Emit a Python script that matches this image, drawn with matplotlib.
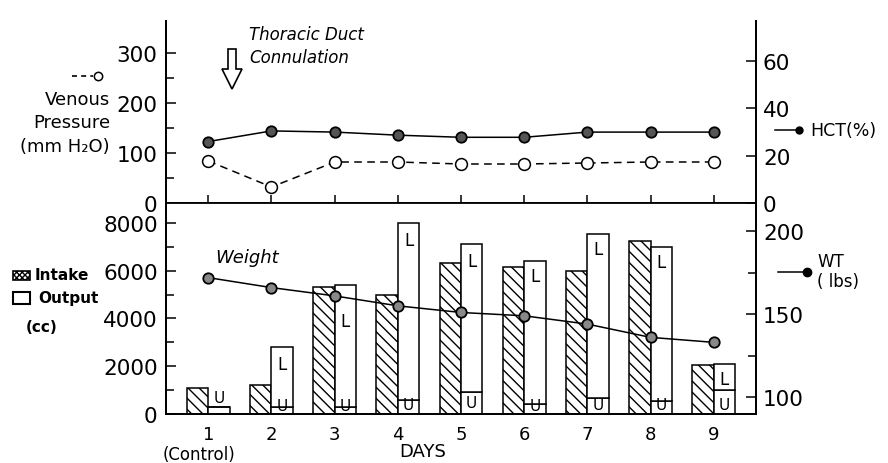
import matplotlib
matplotlib.use('Agg')
import matplotlib.pyplot as plt
from matplotlib.patches import Rectangle, FancyArrow
from matplotlib.lines import Line2D

# ---------------- data ----------------
days = [1, 2, 3, 4, 5, 6, 7, 8, 9]
day_labels = ['1', '2', '3', '4', '5', '6', '7', '8', '9']
venous_pressure = [84, 32, 82, 82, 78, 78, 80, 82, 82]      # mm H2O
hct = [26, 30.5, 30, 28.7, 27.8, 27.8, 30, 30, 30]           # %
intake = [1100, 1200, 5300, 5000, 6300, 6150, 6000, 7250, 2050]   # cc
urine = [300, 300, 300, 600, 900, 400, 650, 550, 1000]            # cc (U)
lymph = [0, 2500, 5100, 7400, 6200, 6000, 6900, 6450, 1100]       # cc (L)
weight = [172, 166, 161, 155, 151, 149, 144, 136, 133]            # lbs

vp_ticks = [0, 100, 200, 300]
vp_minor = [50, 150, 250]
hct_ticks = [0, 20, 40, 60]
cc_ticks = [0, 2000, 4000, 6000, 8000]
cc_minor = [1000, 3000, 5000, 7000]
wt_ticks = [100, 150, 200]
wt_minor = [125, 175]

# ---------------- figure ----------------
plt.rcParams['font.family'] = ['DejaVu Sans']
plt.rcParams['hatch.linewidth'] = 1.0
W, H = 888, 464
fig = plt.figure(figsize=(W / 100, H / 100), dpi=100)

def fx(px):
    return px / W

def fy(py):
    return 1 - py / H

LEFT, RIGHT = 166, 756
ax1 = fig.add_axes([fx(LEFT), fy(204), (RIGHT - LEFT) / W, (204 - 22) / H])
ax2 = fig.add_axes([fx(LEFT), fy(415), (RIGHT - LEFT) / W, (415 - 204) / H])
ax1r = ax1.twinx()
ax2r = ax2.twinx()

spine_lw = 1.3
for a in (ax1, ax1r, ax2, ax2r):
    a.spines['top'].set_visible(False)
    for s in ('left', 'right', 'bottom'):
        a.spines[s].set_linewidth(spine_lw)
    a.set_xlim(0.33, 9.67)

tick_fs = 15.5

# ---- top panel ----
ax1.set_ylim(0, 364)
ax1.set_yticks(vp_ticks)
ax1.set_yticks(vp_minor, minor=True)
ax1.tick_params(axis='y', which='major', direction='in', length=7, width=1.1,
                labelsize=tick_fs, pad=6)
ax1.tick_params(axis='y', which='minor', direction='in', length=6, width=1.1)
ax1.set_xticks(days)
ax1.set_xticklabels([])
ax1.tick_params(axis='x', direction='in', length=6, width=1.1)

ax1r.set_ylim(0, 77)
ax1r.set_yticks(hct_ticks)
ax1r.tick_params(axis='y', direction='in', length=7, width=1.1,
                 labelsize=tick_fs, pad=5)

ax1.plot(days, venous_pressure, linestyle=(0, (5, 3.5)), color='black', lw=1.1,
         marker='o', ms=8.5, mfc='white', mec='black', mew=1.1, zorder=3)
ax1r.plot(days, hct, linestyle='-', color='black', lw=1.1,
          marker='o', ms=7.5, mfc='#555555', mec='black', mew=1.3, zorder=3)

# ---- bottom panel ----
bw = 0.34
x_in = [d - bw / 2 for d in days]
x_out = [d + bw / 2 for d in days]
ax2.bar(x_in, intake, width=bw, facecolor='white', edgecolor='black',
        hatch='\\\\\\', linewidth=1.1, zorder=2)
ax2.bar(x_out, urine, width=bw, facecolor='white', edgecolor='black',
        linewidth=1.1, zorder=2)
ax2.bar(x_out, lymph, bottom=urine, width=bw, facecolor='white',
        edgecolor='black', linewidth=1.1, zorder=2)

l_offsets = [0, -12, -26, -12, -12, -11, -11, -11, -11]
u_offsets = [12, 6, 6, 7, 8, 6, 7, 7, 7]
for i in range(len(days)):
    if lymph[i] > 0:
        ax2.annotate('L', (x_out[i], urine[i] + lymph[i]), xytext=(0, l_offsets[i]),
                     textcoords='offset points', ha='center', va='center',
                     fontsize=12, zorder=4)
    ax2.annotate('U', (x_out[i], 0), xytext=(0, u_offsets[i]),
                 textcoords='offset points', ha='center', va='center',
                 fontsize=11, zorder=4)

ax2.set_ylim(0, 8830)
ax2.set_yticks(cc_ticks)
ax2.set_yticks(cc_minor, minor=True)
ax2.tick_params(axis='y', which='major', direction='in', length=7, width=1.1,
                labelsize=tick_fs, pad=6)
ax2.tick_params(axis='y', which='minor', direction='in', length=6, width=1.1)
ax2.set_xticks(days)
ax2.set_xticklabels(day_labels)
ax2.tick_params(axis='x', length=0, labelsize=13, pad=8)

ax2r.set_ylim(89.8, 217)
ax2r.set_yticks(wt_ticks)
ax2r.set_yticks(wt_minor, minor=True)
ax2r.tick_params(axis='y', which='major', direction='in', length=7, width=1.1,
                 labelsize=tick_fs, pad=5)
ax2r.tick_params(axis='y', which='minor', direction='in', length=6, width=1.1)
ax2r.plot(days, weight, linestyle='-', color='black', lw=1.1,
          marker='o', ms=7.5, mfc='#888888', mec='black', mew=1.3, zorder=5)

# ---------------- annotations ----------------
fig.text(fx(249), fy(46.5), 'Thoracic Duct\nConnulation', ha='left', va='center',
         style='italic', fontsize=12, linespacing=1.35)
fig.add_artist(FancyArrow(2.32, (H - 50) / 100, 0, -0.40, width=0.08,
                          head_width=0.20, head_length=0.20,
                          length_includes_head=True, facecolor='white',
                          edgecolor='black', linewidth=1.2,
                          transform=fig.dpi_scale_trans))

fig.add_artist(Line2D([fx(72), fx(93)], [fy(77), fy(77)], color='black', lw=1.2,
                      linestyle=(0, (3, 2.5)), transform=fig.transFigure))
fig.add_artist(Line2D([fx(98)], [fy(77)], marker='o', ms=6, mfc='white',
                      mec='black', mew=1.1, transform=fig.transFigure))
fig.text(fx(110), fy(123.5), 'Venous\nPressure\n(mm H₂O)', ha='right', va='center',
         fontsize=13, linespacing=1.4)

fig.add_artist(Line2D([fx(775), fx(797)], [fy(131), fy(131)], color='black', lw=1.1,
                      transform=fig.transFigure))
fig.add_artist(Line2D([fx(799)], [fy(131)], marker='o', ms=5, mfc='black',
                      mec='black', transform=fig.transFigure))
fig.text(fx(810), fy(131), 'HCT(%)', ha='left', va='center', fontsize=12.5)

fig.add_artist(Line2D([fx(778), fx(805)], [fy(273), fy(273)], color='black', lw=1.1,
                      transform=fig.transFigure))
fig.add_artist(Line2D([fx(807)], [fy(273)], marker='o', ms=6, mfc='black',
                      mec='black', transform=fig.transFigure))
fig.text(fx(817), fy(272), 'WT\n( lbs)', ha='left', va='center', fontsize=12,
         linespacing=1.15)

fig.text(fx(215), fy(258), 'Weight', ha='left', va='center', style='italic',
         fontsize=13)

fig.add_artist(Rectangle((fx(13), fy(281)), 17 / W, 9 / H, facecolor='white',
                         edgecolor='black', hatch='xxxxxx', linewidth=1.2,
                         transform=fig.transFigure))
fig.text(fx(35), fy(276), 'Intake', ha='left', va='center', fontsize=11,
         fontweight='bold')
fig.add_artist(Rectangle((fx(13), fy(305)), 17 / W, 12 / H, facecolor='white',
                         edgecolor='black', linewidth=1.5,
                         transform=fig.transFigure))
fig.text(fx(38), fy(298), 'Output', ha='left', va='center', fontsize=11,
         fontweight='bold')
fig.text(fx(26), fy(328), '(cc)', ha='left', va='center', fontsize=11,
         fontweight='bold')

fig.text(fx(199), fy(455), '(Control)', ha='center', va='center', fontsize=12)
fig.text(fx(423), fy(452), 'DAYS', ha='center', va='center', fontsize=13)

fig.savefig('out.png', dpi=100)
